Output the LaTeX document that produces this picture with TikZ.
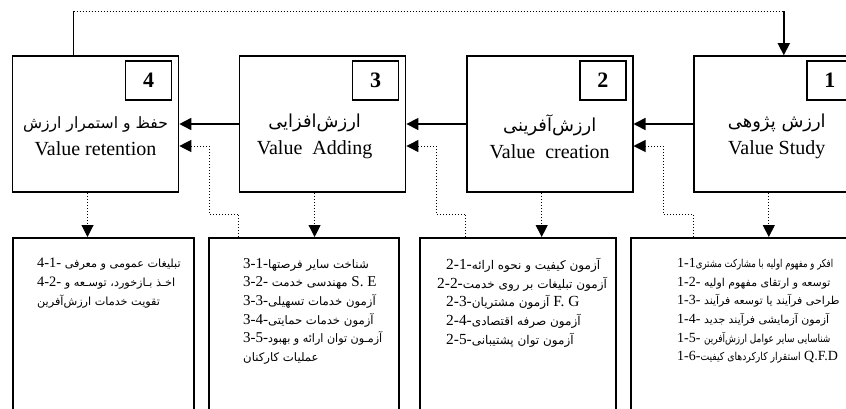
\documentclass[tikz,border=0pt]{standalone}
\usepackage{fontspec}
\setmainfont{Liberation Serif}
\newfontfamily\farsi[Script=Arabic,Scale=0.78]{DejaVu Sans}
\TeXXeTstate=1
\usetikzlibrary{arrows.meta,calc,positioning}

\newcommand{\fa}[1]{{\farsi\beginR #1\endR}}
\newcommand{\fabig}[1]{{\fontsize{23}{27}\selectfont\farsi\beginR #1\endR}}

\tikzset{
  stage/.style={draw, line width=1.6pt, minimum width=166pt, minimum height=136pt, inner sep=0pt},
  numbox/.style={draw, line width=1.4pt, minimum width=46pt, minimum height=39pt, inner sep=0pt, anchor=north east, font=\fontsize{22}{22}\selectfont\bfseries},
  title/.style={align=center, font=\fontsize{20}{27}\selectfont},
  listbox/.style={draw, line width=1.6pt, anchor=north west, inner sep=0pt, minimum height=183pt},
  items/.style={align=left, anchor=north west, inner sep=0pt, font=\fontsize{#1}{18.7}\selectfont},
  dots/.style={line width=1pt, dash pattern=on 1.2pt off 1.8pt},
  flow/.style={line width=1.6pt, -{Triangle[length=12pt,width=12pt]}},
  back/.style={dots, -{Triangle[length=12pt,width=12pt]}},
}

\begin{document}
\begin{tikzpicture}[x=1pt,y=-1pt]
      \useasboundingbox (0,0) rectangle (846,408);
      \clip (0,0) rectangle (846,408);
      % the four stages
      \node[stage] (v4) at (95.5,124) {};
      \node[stage, right=59.5pt of v4] (v3) {};
      \node[stage, right=59.5pt of v3] (v2) {};
      \node[stage, right=59.5pt of v2] (v1) {};
      \node[numbox] (n4) at ([xshift=-7pt,yshift=-5pt]v4.north east) {4};
      \node[numbox] (n3) at ([xshift=-7pt,yshift=-5pt]v3.north east) {3};
      \node[numbox] (n2) at ([xshift=-7pt,yshift=-5pt]v2.north east) {2};
      \node[numbox] (n1) at ([xshift=-7pt,yshift=-5pt]v1.north east) {1};
      \node[title] (t4) at ([yshift=-12.5pt]v4.center) {\fa{حفظ و استمرار ارزش}\\Value retention};
      \node[title] (t3) at ([xshift=-8pt,yshift=-12.5pt]v3.center) {\fabig{ارزش‌افزایی}\\Value~ Adding};
      \node[title] (t2) at ([yshift=-12.5pt]v2.center) {\fabig{ارزش‌آفرینی}\\Value~ creation};
      \node[title] (t1) at ([yshift=-12.5pt]v1.center) {\fabig{ارزش پژوهی}\\Value Study};
      % activity lists
      \node[listbox, minimum width=181pt] (b4) at (12,237) {};
      \node[listbox, minimum width=190pt] (b3) at (208,237) {};
      \node[listbox, minimum width=196pt] (b2) at (419,237) {};
      \node[listbox, minimum width=230pt] (b1) at (630,237) {};
      \node[items=14] (l1) at (677,258) {1-1\scalebox{0.78}[1]{\farsi\beginR افکر و مفهوم اولیه با مشارکت مشتری\endR}\\
        1-2- \fa{توسعه و ارتقای مفهوم اولیه}\\
        1-3- \fa{طراحی فرآیند یا توسعه فرآیند}\\
        1-4- \fa{آزمون آزمایشی فرآیند جدید}\\
        1-5- \scalebox{0.82}[1]{\farsi\beginR شناسایی سایر عوامل ارزش‌آفرین\endR}\\
        1-6-\scalebox{0.85}[1]{\farsi\beginR استقرار کارکردهای کیفیت\endR} Q.F.D};
      \node[items=15.4] (l2) at (446,258) {2-1-\fa{آزمون کیفیت و نحوه ارائه}\\
        \hspace*{-9pt}2-2-\fa{آزمون تبلیغات بر روی خدمت}\\
        2-3-\fa{آزمون مشتریان} F. G\\
        2-4-\fa{آزمون صرفه اقتصادی}\\
        2-5-\fa{آزمون توان پشتیبانی}};
      \node[items=15] (l3) at (243,258) {3-1-\fa{شناخت سایر فرصتها}\\
        3-2- \fa{مهندسی خدمت} S. E\\
        3-3-\fa{آزمون خدمات تسهیلی}\\
        3-4-\fa{آزمون خدمات حمایتی}\\
        3-5-\scalebox{0.95}[1]{\farsi\beginR آزمـون توان ارائه و بهبود\endR}\\
        \fa{عملیات کارکنان}};
      \node[items=14.4] (l4) at (37,258) {4-1- \fa{تبلیغات عمومی و معرفی}\\
        4-2- \fa{اخـذ بـازخورد، توسـعه و}\\
        \fa{تقویت خدمات ارزش‌آفرین}};
      % main flow
      \draw[flow] (v1.west) -- (v2.east);
      \draw[flow] (v2.west) -- (v3.east);
      \draw[flow] (v3.west) -- (v4.east);
      % down to the lists
      \draw[back] ([xshift=-8pt]v1.south) -- ([xshift=-8pt]v1.south |- b1.north);
      \draw[back] ([xshift=-8pt]v2.south) -- ([xshift=-8pt]v2.south |- b2.north);
      \draw[back] ([xshift=-8pt]v3.south) -- ([xshift=-8pt]v3.south |- b3.north);
      \draw[back] ([xshift=-8pt]v4.south) -- ([xshift=-8pt]v4.south |- b4.north);
      % feedback from the lists
      \coordinate (k2) at ($(v2.east)!.5!(v1.west)+(0,22)$);
      \coordinate (k3) at ($(v3.east)!.5!(v2.west)+(0,22)$);
      \coordinate (k4) at ($(v4.east)!.5!(v3.west)+(0,22)$);
      \draw[back] (v1.west |- b1.north) -- ++(0,-23) -| (k2) -- (k2 -| v2.east);
      \draw[back] (v2.west |- b2.north) -- ++(0,-23) -| (k3) -- (k3 -| v3.east);
      \draw[back] (v3.west |- b3.north) -- ++(0,-23) -| (k4) -- (k4 -| v4.east);
      % loop back to the start
      \coordinate (up4) at ([xshift=-22pt]v4.north);
      \coordinate (up1) at ([xshift=7pt]v1.north);
      \coordinate (c4) at (up4 |- 0,11);
      \coordinate (c1) at (up1 |- 0,11);
      \draw[line width=1.6pt] (up4) -- (c4);
      \draw[dots] (c4) -- (c1);
      \draw[flow] (c1) -- (up1);
\end{tikzpicture}
\end{document}
